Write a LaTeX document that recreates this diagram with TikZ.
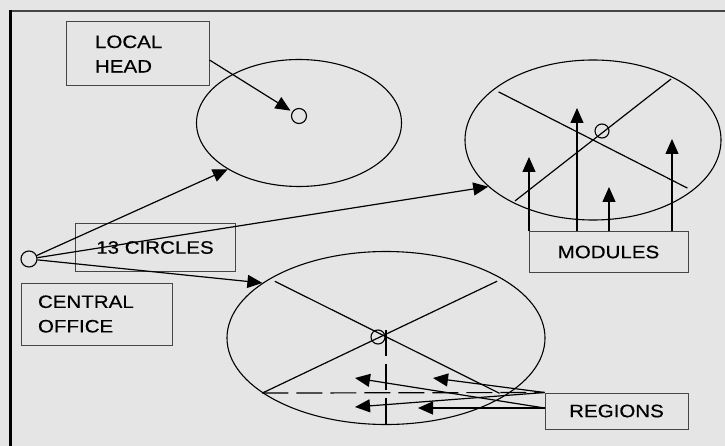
\documentclass[tikz,border=0pt]{standalone}
\usepackage{fontspec}
\setmainfont[FakeStretch=1.14,FakeBold=0.4]{Liberation Sans}
\usepackage{tikz}
\usetikzlibrary{arrows.meta,shapes,positioning,calc}
\definecolor{paper}{RGB}{229,229,229}
\definecolor{rim}{RGB}{70,70,70}
\tikzstyle{box} = [rectangle, draw=rim, line width=1pt,
    font=\fontsize{18}{24.5}\selectfont]
\tikzstyle{area} = [ellipse, draw, line width=1.1pt, inner sep=0pt]
\tikzstyle{site} = [circle, draw, line width=1.1pt, inner sep=0pt,
    minimum size=15pt]
\tikzstyle{longdash} = [dash pattern=on 26pt off 8pt]

\begin{document}
\begin{tikzpicture}[x=1pt,y=-1pt,->,>={Triangle[length=15pt,width=13pt]},
                    line width=1.2pt]
  \useasboundingbox (0,0) rectangle (725,446);
  \fill[paper] (0,0) rectangle (725,446);
  \draw[-,rim,line width=2.5pt] (10,11) -- (725,11);
  \draw[-,black,line width=3pt] (10,10) -- (10,446);

  % boxes
  \node[box, text width=85pt, inner xsep=29pt, minimum height=64pt,
        align=left] (lh) at (137.5,54) {LOCAL\\HEAD};
  \node[box, minimum width=160pt, minimum height=47pt] (cir) at (155,247.5) {13 CIRCLES};
  \node[box, text width=117pt, inner xsep=17pt, minimum height=62pt,
        align=left] (cob) at (96.5,314) {CENTRAL\\OFFICE};
  \node[box, minimum width=159pt, minimum height=40pt] (mod) at (608.5,252) {MODULES};
  \node[box, minimum width=143pt, minimum height=36pt] (reg) at (616.5,411) {REGIONS};

  % circles
  \node[area, minimum width=205pt, minimum height=127pt] (lc) at (299,123) {};
  \node[area, minimum width=256pt, minimum height=160pt] (rc) at (593,140) {};
  \node[area, minimum width=318pt, minimum height=173pt] (bc) at (386,338) {};
  \node[site, minimum size=16pt] (co) at (29,259) {};
  \node[site] (lcs) at (299,116) {};
  \node[site, minimum size=14pt] (rcs) at (602,131) {};
  \node[site, minimum size=14pt] (bcs) at (378,337) {};

  % sectors
  \draw[-, shorten <=6pt, shorten >=6pt] (rc.153) -- (rc.333);
  \draw[-, shorten <=3pt, shorten >=3pt] (rc.218) -- (rc.38);
  \draw[-, shorten <=6pt, shorten >=6pt] (bc.153) -- (bc.334);
  \draw[-, shorten >=6pt] (bc.204) -- (bc.27);
  \draw[-, longdash] (bc.204) -- (reg.north west);
  \draw[-, longdash] ([yshift=8pt]bc.center) -- (bc.south);

  \coordinate (md1) at (529,157);
  \coordinate (md2) at (577,108);
  \coordinate (md3) at (609,187);
  \coordinate (md4) at (672,139);
  \coordinate (rg1) at (433,378);
  \coordinate (rg2) at (355,407);
  \coordinate (rg3) at (355,378);
  \coordinate (rg4) at (418,408);

  \path ([yshift=-6pt]lh.east) edge[shorten >=2pt] (lcs)
        (co) edge (lc.213)
        (co) edge (rc.204)
        (co) edge (bc.156)
        (reg.north west) edge (rg1) edge (rg2)
        ([yshift=3pt]reg.west) edge (rg3) edge (rg4);
  \foreach \m in {md1,md2,md3,md4}
    \draw (\m |- mod.north) -- (\m);
\end{tikzpicture}
\end{document}
